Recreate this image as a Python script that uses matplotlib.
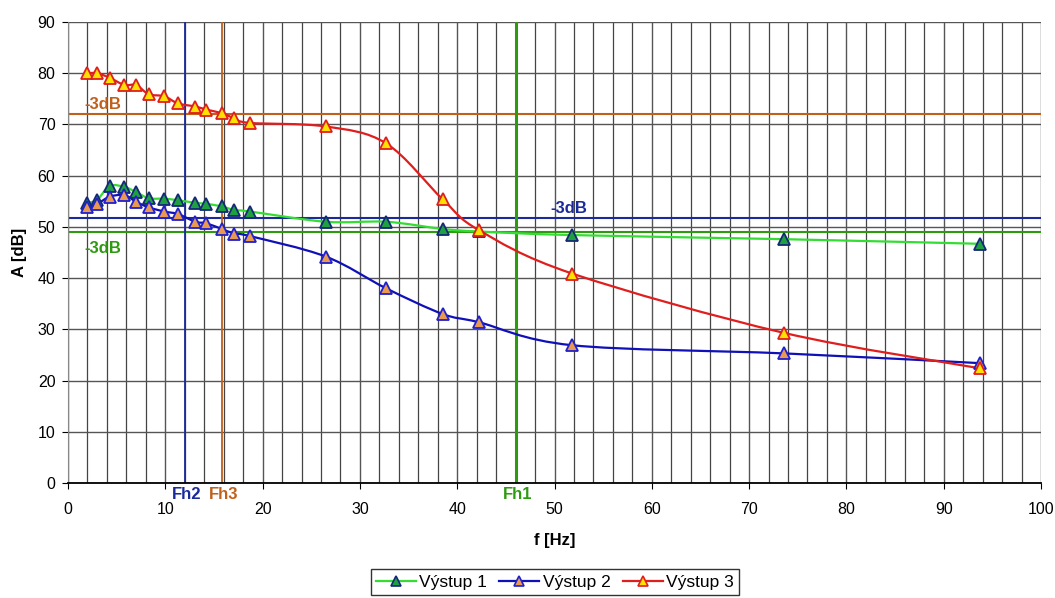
import numpy as np
import matplotlib
matplotlib.use("Agg")
import matplotlib.pyplot as plt
from matplotlib.path import Path
from matplotlib.patches import PathPatch
from matplotlib.lines import Line2D

plt.rcParams['font.family'] = ['Liberation Sans', 'DejaVu Sans']

# ---- data ----
freq = [2.0, 3.0, 4.3, 5.8, 7.0, 8.3, 9.9, 11.3, 13.1, 14.2, 15.8, 17.1, 18.7,
        26.5, 32.7, 38.5, 42.2, 51.8, 73.6, 93.7]
vystup1 = [54.7, 55.3, 58.0, 57.8, 56.8, 55.6, 55.5, 55.2, 54.7, 54.5, 54.0, 53.3, 53.0,
           51.0, 51.0, 49.6, 49.1, 48.4, 47.6, 46.7]
vystup2 = [53.9, 54.5, 55.9, 56.2, 54.9, 53.8, 53.0, 52.5, 51.0, 50.7, 49.6, 48.7, 48.2,
           44.2, 38.0, 33.0, 31.4, 26.9, 25.3, 23.4]
vystup3 = [80.0, 80.0, 79.1, 77.7, 77.7, 75.9, 75.5, 74.1, 73.5, 72.9, 72.2, 71.2, 70.3,
           69.6, 66.3, 55.4, 49.4, 40.9, 29.3, 22.4]
series_names = ['Výstup 1', 'Výstup 2', 'Výstup 3']

cut_levels = [49.0, 51.7, 72.0]        # -3dB levels for Výstup 1, 2, 3
cut_freqs = [46.0, 12.0, 15.8]         # Fh1, Fh2, Fh3
cut_names = ['Fh1', 'Fh2', 'Fh3']

x_ticks = list(range(0, 101, 10))
y_ticks = list(range(0, 91, 10))

# ---- styles ----
line_colors = ['#33DD33', '#1010B8', '#E01E1E']
marker_face = ['#1FA040', '#E89A50', '#FFE000']
marker_edge = ['#142878', '#2020D0', '#E01E1E']
ref_colors = ['#2E9A10', '#1A2A9A', '#C0601A']

fig = plt.figure(figsize=(10.55, 5.98), dpi=100)
ax = fig.add_axes([68/1055, 1-483/598, (1041-68)/1055, (483-22)/598])
ax.set_xlim(0, 100)
ax.set_ylim(0, 90)
ax.set_xticks(x_ticks)
ax.set_yticks(y_ticks)
ax.set_xticks(np.arange(0, 101, 2), minor=True)
ax.tick_params(axis='both', which='major', labelsize=11.5, length=4, color='black')
ax.tick_params(axis='x', which='major', pad=10)
ax.tick_params(axis='y', which='major', pad=5)
ax.tick_params(axis='x', which='minor', length=0)
ax.grid(True, which='major', axis='both', color='#555555', lw=1.0)
ax.grid(True, which='minor', axis='x', color='#444444', lw=0.9)
ax.set_axisbelow(True)
for s in ['top', 'right']:
    ax.spines[s].set_visible(False)
ax.spines['left'].set_color('#888888')
ax.spines['bottom'].set_color('black')
ax.spines['bottom'].set_linewidth(1.3)

ax.set_xlabel('f [Hz]', fontsize=12, fontweight='bold', labelpad=11)
ax.set_ylabel('A [dB]', fontsize=12, fontweight='bold', labelpad=8)


def smooth_path(xs, ys):
    pts = np.column_stack([xs, ys])
    n = len(pts)
    verts = [pts[0]]
    codes = [Path.MOVETO]
    for i in range(n - 1):
        p0 = pts[i - 1] if i > 0 else pts[i]
        p1 = pts[i]
        p2 = pts[i + 1]
        p3 = pts[i + 2] if i + 2 < n else pts[i + 1]
        c1 = p1 + (p2 - p0) / 6.0
        c2 = p2 - (p3 - p1) / 6.0
        verts += [c1, c2, p2]
        codes += [Path.CURVE4] * 3
    return Path(verts, codes)


# reference lines
for lvl, col in zip(cut_levels, ref_colors):
    ax.axhline(lvl, color=col, lw=1.5, zorder=2)
for fc, col, lw in zip(cut_freqs, ref_colors, [2.2, 1.3, 1.3]):
    ax.axvline(fc, color=col, lw=lw, zorder=2)

# series
handles = []
for i, ys in enumerate([vystup1, vystup2, vystup3]):
    patch = PathPatch(smooth_path(freq, ys), fill=False, edgecolor=line_colors[i], lw=1.6, zorder=3)
    ax.add_patch(patch)
    ax.plot(freq, ys, linestyle='none', marker='^', markersize=8, markerfacecolor=marker_face[i],
            markeredgecolor=marker_edge[i], markeredgewidth=1.3, zorder=4)
    handles.append(Line2D([0], [0], color=line_colors[i], lw=1.6, marker='^', markersize=7,
                          markerfacecolor=marker_face[i], markeredgecolor=marker_edge[i],
                          markeredgewidth=1.2))

# -3dB labels
ax.text(1.7, cut_levels[2] + 0.4, '-3dB', color=ref_colors[2], fontsize=12, fontweight='bold', va='bottom', ha='left')
ax.text(1.7, cut_levels[0] - 1.7, '-3dB', color=ref_colors[0], fontsize=12, fontweight='bold', va='top', ha='left')
ax.text(49.6, cut_levels[1] + 0.5, '-3dB', color=ref_colors[1], fontsize=12, fontweight='bold', va='bottom', ha='left')

# Fh labels below axis
for fc, name, col in zip(cut_freqs, cut_names, ref_colors):
    ax.annotate(name, xy=(fc, 0), xytext=(1.5, -3), textcoords='offset points', ha='center', va='top',
                color=col, fontsize=12, fontweight='bold', annotation_clip=False)

leg = fig.legend(handles, series_names, loc='center', bbox_to_anchor=(555/1055, 1-582/598), ncol=3,
                 frameon=True, fancybox=False, edgecolor='black', fontsize=12.5, handlelength=2.3,
                 handletextpad=0.2, columnspacing=0.7, borderpad=0.3)
leg.get_frame().set_linewidth(1.0)

fig.savefig('out.png', dpi=100)
